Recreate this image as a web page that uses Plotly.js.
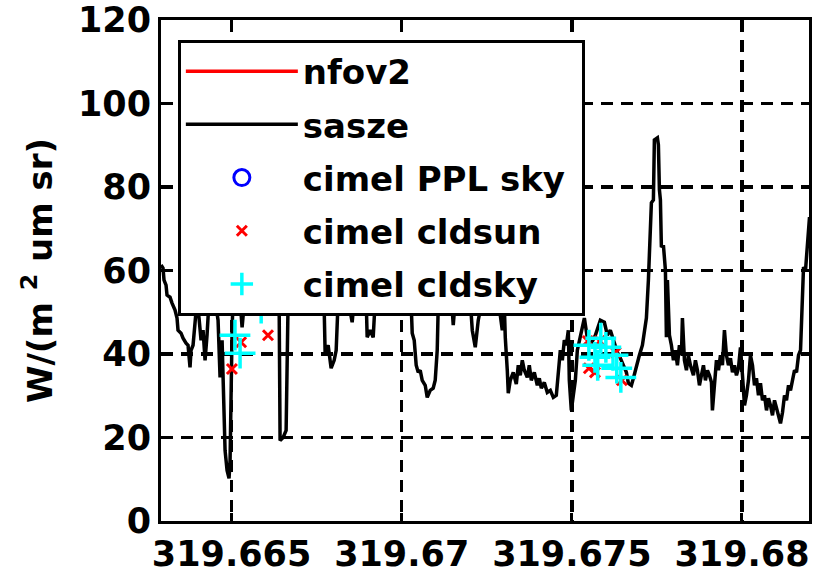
<!DOCTYPE html>
<html>
<head>
<meta charset="utf-8">
<script src="https://cdn.plot.ly/plotly-3.0.1.min.js"></script>
<style>html,body{margin:0;padding:0;background:#fff;}#chart{width:813px;height:570px;}</style>
</head>
<body>
<div id="chart"></div>
<script>
// ---- data ----
var saszeTime = [
319.662927,319.662985,319.663015,319.663074,319.663103,319.663191,319.66325,319.663338,319.663397,319.663426,
319.663515,319.663574,319.663662,319.663721,319.663779,319.663809,319.663868,319.663926,319.663985,319.664044,
319.664103,319.664162,319.664221,319.664279,319.664338,319.664426,319.664515,319.664603,319.664662,319.664721,
319.664779,319.664809,319.664868,319.664926,319.664956,319.664985,319.665015,319.665044,319.665132,319.665191,
319.66525,319.665309,319.665368,319.665485,319.665603,319.665721,319.665838,319.665985,319.666132,319.666279,
319.666397,319.666426,319.666515,319.666603,319.666662,319.666779,319.666956,319.667162,319.667368,319.667544,
319.667721,319.66775,319.667838,319.667926,319.668015,319.668074,319.668132,319.668279,319.668426,319.668544,
319.668603,319.668779,319.668956,319.668985,319.669074,319.669162,319.669221,319.669426,319.669662,319.669897,
319.670103,319.670279,319.670309,319.670368,319.670426,319.670485,319.670544,319.670603,319.670691,319.67075,
319.670838,319.670926,319.670985,319.671044,319.671074,319.671279,319.671485,319.671515,319.671574,319.671779,
319.672015,319.672074,319.672162,319.67225,319.672368,319.672603,319.672838,319.672956,319.673015,319.673044,
319.673103,319.673132,319.673191,319.673279,319.673368,319.673426,319.673485,319.673544,319.673603,319.673691,
319.67375,319.673809,319.673897,319.673985,319.674044,319.674103,319.674191,319.674279,319.674368,319.674456,
319.674544,319.674603,319.674662,319.674721,319.674779,319.674838,319.674897,319.674926,319.674985,319.675044,
319.675103,319.675162,319.675221,319.675279,319.675368,319.675456,319.675544,319.675691,319.675838,319.675956,
319.676044,319.676132,319.67625,319.676338,319.676426,319.676515,319.676603,319.676662,319.67675,319.676809,
319.676897,319.676985,319.677074,319.677132,319.677191,319.67725,319.677309,319.677338,319.677397,319.677426,
319.677515,319.677544,319.677574,319.677603,319.677632,319.677691,319.67775,319.677779,319.677809,319.677868,
319.677926,319.677985,319.678044,319.678103,319.678162,319.678221,319.67825,319.678309,319.678368,319.678426,
319.678485,319.678574,319.678632,319.678691,319.67875,319.678809,319.678868,319.678926,319.678985,319.679044,
319.679103,319.679132,319.679191,319.67925,319.679309,319.679368,319.679426,319.679485,319.679544,319.679603,
319.679662,319.679721,319.679779,319.679838,319.679897,319.679956,319.680015,319.680074,319.680132,319.680191,
319.68025,319.680309,319.680368,319.680426,319.680485,319.680544,319.680603,319.680662,319.680721,319.680779,
319.680838,319.680897,319.680956,319.681015,319.681074,319.681132,319.681191,319.68125,319.681309,319.681368,
319.681426,319.681485,319.681544,319.681603,319.681662,319.681721,319.681779,319.681809,319.681868,319.681926,
319.681985
];
var saszeRad = [
61.3,60.6,57.7,56.5,54.1,53.6,52.2,50.5,48.6,45.7,
45.0,43.8,42.6,42.1,36.8,40.9,42.1,46.9,52.9,48.6,
43.3,45.7,38.5,44.5,52.9,50.5,52.9,48.1,34.4,43.3,
29.6,16.9,12.1,10.2,14.5,39.2,45.7,52.9,51.7,50.5,
52.9,46.4,51.7,54.1,52.9,55.3,52.9,54.1,52.9,51.7,
52.9,19.3,20.0,21.7,52.9,50.5,54.1,52.9,54.1,52.9,
51.0,40.2,42.1,36.6,38.5,40.9,52.9,54.1,52.9,47.6,
52.9,54.1,52.9,44.0,45.7,44.0,52.9,54.1,52.9,54.1,
52.9,51.7,45.0,43.3,37.3,35.6,36.1,33.7,32.5,29.6,
31.3,31.8,33.7,40.9,51.7,52.9,50.5,46.9,52.9,54.1,
52.9,45.7,41.6,48.1,52.9,54.1,52.9,45.7,51.7,44.0,
36.1,30.6,33.7,35.6,32.8,37.3,34.9,38.5,36.1,34.4,
37.3,33.7,35.6,32.5,34.2,31.8,33.2,30.8,31.3,29.6,
30.1,36.1,40.9,38.5,43.3,42.1,45.7,33.7,26.5,30.1,
33.7,40.9,43.3,45.7,48.6,43.8,42.1,44.5,48.1,47.6,
44.5,45.7,42.8,40.4,39.0,37.3,35.6,33.0,32.5,34.2,
37.3,39.7,42.1,45.7,48.6,57.7,67.3,76.2,76.9,91.3,
91.8,90.1,79.3,76.9,65.6,66.1,60.1,44.0,57.7,44.5,
42.1,38.5,40.9,37.3,42.1,39.7,48.6,38.5,36.1,39.7,
37.3,34.9,38.5,36.1,32.5,34.9,37.3,33.7,36.1,34.9,
33.2,26.5,32.5,38.5,36.1,39.7,37.3,45.7,39.7,37.3,
39.0,35.6,37.3,34.9,36.6,41.6,34.9,27.7,30.1,33.7,
39.7,37.3,32.5,34.2,30.1,33.0,28.9,30.1,26.5,29.4,
27.7,25.3,28.9,27.0,25.3,23.4,26.0,30.1,28.9,32.5,
31.3,33.7,36.1,35.6,39.7,40.9,52.9,60.8,60.1,67.3,
72.8
];
var nfov2Time = [null];
var nfov2Rad = [null];
var pplTime = [null];
var pplRad = [null];
var cldsunTime = [319.66501,319.66528,319.66607,319.67547,319.67582,319.67568,319.67647,319.67629,319.67550];
var cldsunRad  = [36.4,42.8,44.5,43.1,43.1,35.6,33.7,40.4,36.6];
var cldskyTime = [319.66510,319.66525,319.66587,319.67550,319.67585,319.67600,319.67568,319.67576,319.67621,319.67632,319.67644];
var cldskyRad  = [44.5,40.2,51.0,42.1,43.8,41.6,39.2,37.3,39.7,36.6,34.4];

var seriesNames = ['nfov2','sasze','cimel PPL sky\u00a0','cimel cldsun','cimel cldsky'];
var xTickVals = [319.665,319.67,319.675,319.68];
var xTickText = ['319.665','319.67','319.675','319.68'];
var yTickVals = [0,20,40,60,80,100,120];
var yTickText = ['0','20','40','60','80','100','120'];

// ---- chart ----
var FONT = 'DejaVu Sans, Verdana, sans-serif';
var traces = [
  {x:nfov2Time, y:nfov2Rad, name:seriesNames[0], mode:'lines', legendgroup:'a',
   line:{color:'#ff0000', width:3.5}},
  {x:saszeTime, y:saszeRad, name:seriesNames[1], mode:'lines', legendgroup:'b',
   line:{color:'#000000', width:3.5}},
  {x:pplTime, y:pplRad, name:seriesNames[2], mode:'markers', legendgroup:'c',
   marker:{symbol:'circle-open', color:'#0000ff', size:16, line:{width:3, color:'#0000ff'}}},
  {x:cldsunTime, y:cldsunRad, name:seriesNames[3], mode:'markers', legendgroup:'d',
   marker:{symbol:'x-thin', color:'#ff0000', size:10, line:{width:3, color:'#ff0000'}}},
  {x:cldskyTime, y:cldskyRad, name:seriesNames[4], mode:'markers', legendgroup:'e',
   marker:{symbol:'cross-thin', color:'#00ffff', size:22, line:{width:3.5, color:'#00ffff'}}}
];

var axisCommon = {
  showline:true, linecolor:'#000', linewidth:3, mirror:'allticks',
  ticks:'inside', ticklen:8, tickwidth:3, tickcolor:'#000',
  showgrid:true, gridcolor:'#000', gridwidth:3.5, griddash:'12px,8px',
  zeroline:false, automargin:false,
  tickfont:{family:FONT, size:35, color:'#000', weight:'bold'}
};

var layout = {
  width:813, height:570,
  margin:{l:161, r:4, t:20, b:49, pad:0},
  paper_bgcolor:'#fff', plot_bgcolor:'#fff',
  font:{family:FONT, size:34, color:'#000', weight:'bold'},
  showlegend:true,
  legend:{x:0.026, y:0.961, xanchor:'left', yanchor:'top',
    bgcolor:'#fff', bordercolor:'#000', borderwidth:3,
    itemwidth:112, tracegroupgap:6, traceorder:'grouped',
    font:{family:FONT, size:34, color:'#000', weight:'bold'}},
  xaxis:Object.assign({}, axisCommon, {
    range:[319.662926, 319.68197], tickmode:'array', tickvals:xTickVals, ticktext:xTickText
  }),
  yaxis:Object.assign({}, axisCommon, {
    automargin:'left',
    range:[0,120], tickmode:'array', tickvals:yTickVals, ticktext:yTickText,
    title:{text:'W/(m <sup>2</sup> um sr)', standoff:16,
      font:{family:FONT, size:34, color:'#000', weight:'bold'}}
  })
};

Plotly.newPlot('chart', traces, layout, {displayModeBar:false, staticPlot:true});
</script>
</body>
</html>
